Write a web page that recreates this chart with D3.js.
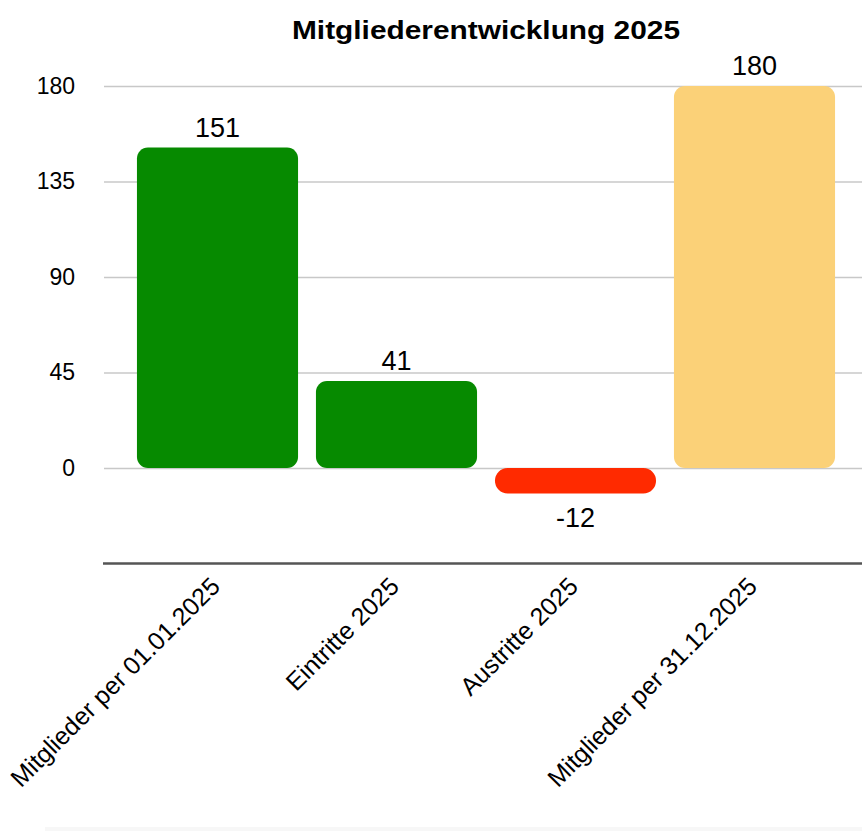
<!DOCTYPE html>
<html lang="de">
  <head>
    <meta charset="utf-8">
    <title>Mitgliederentwicklung 2025</title>
    <script type="text/javascript" src="https://cdn.jsdelivr.net/npm/d3@7"></script>
    <style>
      body { margin: 0; background: #ffffff; }
      text { font-family: "Liberation Sans", Arial, Helvetica, sans-serif; fill: #000; }
    </style>
  </head>
  <body>
    <script type="text/javascript">
    // data
    var categories = ["Mitglieder per 01.01.2025", "Eintritte 2025", "Austritte 2025", "Mitglieder per 31.12.2025"];
    var values = [151, 41, -12, 180];
    var barColors = ["#068a00", "#068a00", "#ff2a00", "#fbd178"];
    var yTicks = [0, 45, 90, 135, 180];
    var title = "Mitgliederentwicklung 2025";

    var w = 862;
    var h = 831;

    var svg = d3.select("body")
                .append("svg")
                .attr("width", w)
                .attr("height", h);

    // scales
    var xScale = d3.scaleBand()
                   .domain(categories)
                   .range([128, 844])
                   .paddingInner(0.1)
                   .paddingOuter(0.05);

    var yScale = d3.scaleLinear()
                   .domain([-45, 180])
                   .range([563.5, 86]);

    // faint strip at the very bottom
    svg.append("rect")
       .attr("x", 45)
       .attr("y", 827)
       .attr("width", w - 45)
       .attr("height", 4)
       .attr("fill", "#f7f7f7");

    // title (the original is rendered a bit wider, so stretch it)
    svg.append("text")
       .attr("x", 486)
       .attr("y", 39)
       .attr("text-anchor", "middle")
       .attr("textLength", 388)
       .attr("lengthAdjust", "spacingAndGlyphs")
       .style("font-size", "25px")
       .style("font-weight", "bold")
       .text(title);

    // gridlines + y labels via axis
    var yAxis = d3.axisLeft(yScale)
                  .tickValues(yTicks)
                  .tickSize(-(w - 104))
                  .tickPadding(29);

    var gy = svg.append("g")
                .attr("class", "axis")
                .attr("transform", "translate(104, 0)")
                .call(yAxis);
    gy.select(".domain").remove();
    gy.selectAll(".tick line")
      .attr("stroke", "#c8c8c8")
      .attr("stroke-width", 1.5);
    gy.selectAll(".tick text")
      .style("font-size", "23px")
      .style("font-family", "'Liberation Sans', Arial, sans-serif")
      .attr("fill", "#000");

    // bars, short ones get fully rounded ends
    var radius = function(v) {
      var hh = Math.abs(yScale(v) - yScale(0));
      return hh < 30 ? hh / 2 : 11;
    };

    svg.selectAll("rect.bar")
       .data(values)
       .enter()
       .append("rect")
       .attr("class", "bar")
       .attr("x", function(d, i) { return xScale(categories[i]); })
       .attr("y", function(d) { return yScale(Math.max(0, d)); })
       .attr("width", xScale.bandwidth())
       .attr("height", function(d) { return Math.abs(yScale(d) - yScale(0)); })
       .attr("rx", function(d) { return radius(d); })
       .attr("ry", function(d) { return radius(d); })
       .attr("fill", function(d, i) { return barColors[i]; });

    // value labels
    svg.selectAll("text.value")
       .data(values)
       .enter()
       .append("text")
       .attr("class", "value")
       .attr("x", function(d, i) { return xScale(categories[i]) + xScale.bandwidth() / 2; })
       .attr("y", function(d) {
         return d >= 0 ? yScale(d) - 11 : yScale(d) + 34;
       })
       .attr("text-anchor", "middle")
       .style("font-size", "27px")
       .text(function(d) { return d; });

    // bottom axis line
    var xAxis = d3.axisBottom(xScale).tickSize(0).tickFormat("");
    var gx = svg.append("g")
                .attr("transform", "translate(0, " + yScale(-45) + ")")
                .call(xAxis);
    gx.select(".domain")
      .attr("d", "M103,0H" + w)
      .attr("stroke", "#555")
      .attr("stroke-width", 2.5);

    // rotated category labels
    svg.selectAll("text.cat")
       .data(categories)
       .enter()
       .append("text")
       .attr("class", "cat")
       .attr("text-anchor", "end")
       .attr("transform", function(d) {
         var cx = xScale(d) + xScale.bandwidth() / 2;
         return "translate(" + (cx + 4) + "," + 588 + ") rotate(-45)";
       })
       .style("font-size", "25px")
       .text(function(d) { return d; });
    </script>
  </body>
</html>
